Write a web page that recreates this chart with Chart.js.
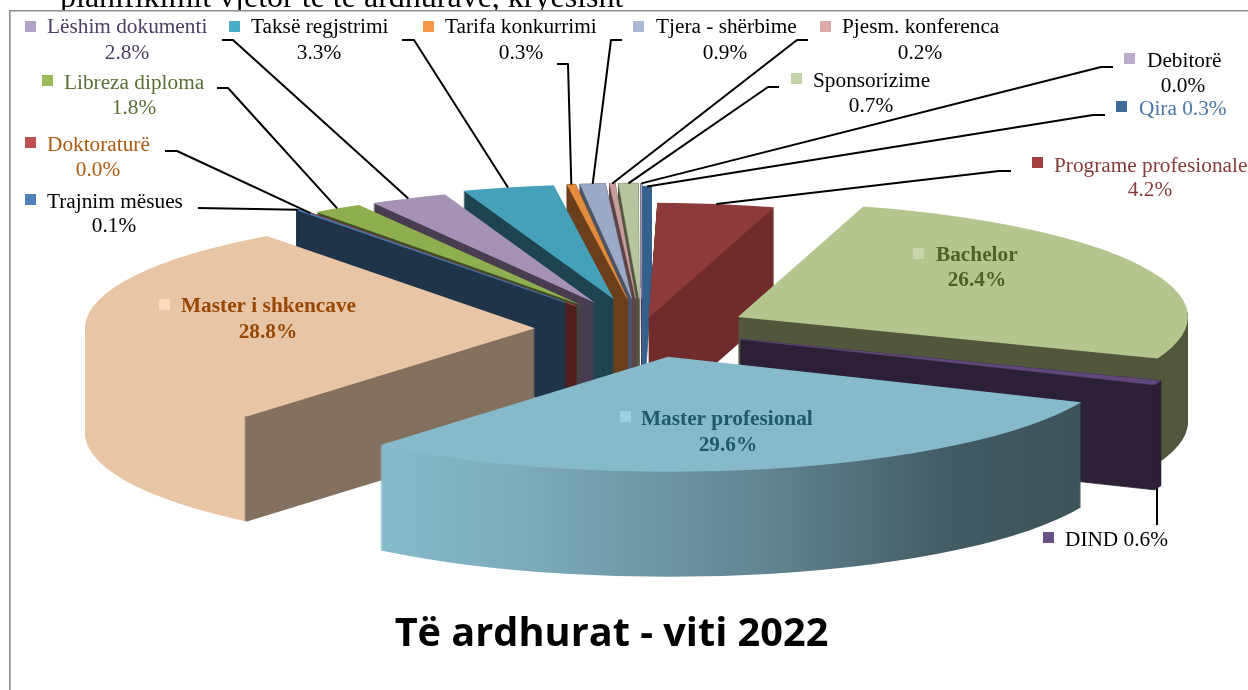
<!DOCTYPE html>
<html lang="sq">
<head>
<meta charset="utf-8">
<title>Të ardhurat - viti 2022</title>
<style>html,body{margin:0;padding:0;background:#fff}canvas{display:block}</style>
<script src="https://cdn.jsdelivr.net/npm/chart.js@4/dist/chart.umd.js"></script>
</head>
<body>
<canvas id="c" width="1248" height="690"></canvas>
<script>
// ---- data ----
const categories = ["Qira","Programe profesionale","Bachelor","DIND","Master profesional","Master i shkencave","Trajnim mësues","Doktoraturë","Libreza diploma","Lëshim dokumenti","Taksë regjstrimi","Tarifa konkurrimi","Tjera - shërbime","Pjesm. konferenca","Sponsorizime","Debitorë"];
const shares = [0.3,4.2,26.4,0.6,29.6,28.8,0.1,0.04,1.8,2.8,3.3,0.3,0.9,0.2,0.7,0.03];
const chartTitle = "Të ardhurat - viti 2022";
const clippedHeading = "planifikimit vjetor të të ardhurave, kryesisht";

// ---- styles ----
const topColors = ["#36618f","#8d3b3a","#b4c58e","#60497a","#86bacb","#e8c5a5","#4f81bd","#c0504d","#8eae4f","#a491b4","#45a1ba","#e38c3b","#9ca9c6","#c89e9d","#b7c59f","#b9adcb"];
const wallColors = ["#355f8d","#702c2c","#52573d","#2b2035","#86bacb","#84705e","#1f3349","#4f1f1f","#3f4f26","#483e50","#1e4450","#6b3f1c","#4b5465","#5e4445","#50563f","#3f3650"];
const explosion = [108,45,107,107,112,107,130,112,112,112,120,120,120,120,120,120];
const keyColors = ["#3f6a9c","#a33f3d","#c9d6a9","#6a5088","#9ccfe0","#fbd9bb","#4f81bd","#c0504d","#9bbb59","#b3a2c7","#4bacc6","#f79646","#aab8d6","#dba9a8","#c3d3a8","#b9adcb"];
const textColors = ["#4a76a8","#843c3b","#4f6128","#000","#215968","#974806","#000","#ad5a10","#5a6f34","#4c3d63","#000","#000","#000","#000","#000","#000"];
// label layout: key x, key y, text x, name baseline, percent centre x, percent baseline, leader start x, y, elbow x
const labelLayout = [
 [1116,101,1139,115,null,null,1105,115,1093],
 [1032,157,1054,172,1150,196,1011,171,999],
 [913,248,936,261,977,286,null],
 [1043,532,1065,546,null,null,1157,525,null],
 [620,411,641,425,728,451,null],
 [159,299,181,312,268,338,null],
 [25,194,47,208,114,232,198,208,null],
 [25,137,47,151,98,176,165,151,177],
 [42,75,64,89,134,114,217,88,228],
 [25,21,47,33,127,59,222,40,233],
 [229,21,251,33,319,59,402,40,414],
 [423,21,445,33,521,59,557,64,568],
 [633,21,656,33,725,59,622,40,611],
 [820,21,842,33,920,59,808,40,797],
 [791,73,813,87,871,112,779,87,768],
 [1124,53,1147,67,1183,92,1113,67,1101]
];
const boldLabels = new Set(["Bachelor","Master profesional","Master i shkencave"]);
const pieCentre = {x:642, y:329}, squash = 0.2555, wallDepth = 105, pieRadius = 450;

function wallFill(ctx, i, toLocal){
  if (categories[i] === "Master profesional"){
    const g = ctx.createLinearGradient(toLocal(380),0,toLocal(1080),0);
    g.addColorStop(0,"#86bacb"); g.addColorStop(0.2,"#7dacbc"); g.addColorStop(0.55,"#618591");
    g.addColorStop(0.82,"#425a62"); g.addColorStop(1,"#3d5359");
    return g;
  }
  if (categories[i] === "Master i shkencave"){
    const g = ctx.createLinearGradient(toLocal(244),0,toLocal(246),0);
    g.addColorStop(0,"#e8c5a5"); g.addColorStop(1,"#84705e");
    return g;
  }
  return wallColors[i];
}
function rimPoint(arc,i,deep){
  const half=(arc.startAngle+arc.endAngle)/2, e=explosion[i];
  return {x:pieCentre.x+Math.cos(half)*(e+pieRadius),
          y:pieCentre.y+Math.sin(half)*(e+pieRadius)*squash+(deep?wallDepth:0)};
}

const pie3d = {
  id:"pie3d",
  beforeDatasetsDraw(chart){
    const ctx = chart.ctx, arcs = chart.getDatasetMeta(0).data;
    const order = arcs.map((a,i)=>i).sort((p,q)=>{
      const m=a=>Math.sin((a.startAngle+a.endAngle)/2);
      return m(arcs[p])-m(arcs[q]);
    });
    for (const i of order){
      const arc=arcs[i], half=(arc.startAngle+arc.endAngle)/2, e=explosion[i];
      const ex=Math.cos(half)*e, ey=Math.sin(half)*e*squash;
      const base=arc.options, thin=shares[i]<1.2;
      const place=(dy)=>{
        ctx.translate(pieCentre.x+ex,pieCentre.y+ey+dy);
        ctx.scale(1,squash);
        ctx.translate(-arc.x,-arc.y);
      };
      const toLocal=px=>px-pieCentre.x-ex+arc.x;
      const wall=wallFill(ctx,i,toLocal);
      if(thin){
        // thin wedge: sweep its outline straight down in one fill, so no seams appear
        const ax=pieCentre.x+ex, ay=pieCentre.y+ey, r=arc.outerRadius;
        const sx=ax+Math.cos(arc.startAngle)*r, sy=ay+Math.sin(arc.startAngle)*r*squash;
        const tx=ax+Math.cos(arc.endAngle)*r, ty=ay+Math.sin(arc.endAngle)*r*squash;
        const d=wallDepth;
        ctx.save();
        ctx.fillStyle=wall; ctx.strokeStyle=wall; ctx.lineWidth=0.8; ctx.lineJoin="round";
        for(const pts of [[[ax,ay],[sx,sy],[sx,sy+d],[ax,ay+d]],[[ax,ay],[tx,ty],[tx,ty+d],[ax,ay+d]],[[sx,sy],[tx,ty],[tx,ty+d],[sx,sy+d]]]){
          ctx.beginPath();
          pts.forEach((p,n)=>n?ctx.lineTo(p[0],p[1]):ctx.moveTo(p[0],p[1]));
          ctx.closePath(); ctx.fill(); ctx.stroke();
        }
        ctx.restore();
      } else {
        arc.options=Object.assign({},base,{backgroundColor:wall});
        for(let d=wallDepth;d>=1;d--){ ctx.save(); place(d); arc.draw(ctx); ctx.restore(); }
      }
      arc.options=Object.assign({},base,thin?{backgroundColor:topColors[i],borderColor:topColors[i],borderWidth:0.8,borderJoinStyle:"round"}:{backgroundColor:topColors[i]});
      ctx.save(); place(0); arc.draw(ctx); ctx.restore();
      arc.options=base;
    }
    return false;
  },
  afterDraw(chart){
    const ctx=chart.ctx, arcs=chart.getDatasetMeta(0).data;
    // page frame and clipped heading above it
    ctx.save();
    ctx.fillStyle="#000"; ctx.textAlign="left"; ctx.textBaseline="alphabetic";
    ctx.font='32px "Liberation Serif"';
    ctx.fillText(clippedHeading,60,7);
    ctx.fillStyle="#fff"; ctx.fillRect(0,11,1248,7);
    ctx.strokeStyle="#8c8c8c"; ctx.lineWidth=1.6;
    ctx.beginPath(); ctx.moveTo(1248,10.8); ctx.lineTo(9.8,10.8); ctx.lineTo(9.8,690); ctx.stroke();
    // leader lines
    ctx.strokeStyle="#000"; ctx.lineWidth=2; ctx.lineJoin="round";
    categories.forEach((name,i)=>{
      const L=labelLayout[i];
      if(L[6]==null) return;
      const isDown=name==="DIND", p=rimPoint(arcs[i],i,isDown);
      ctx.beginPath(); ctx.moveTo(L[6],L[7]);
      if(L[8]!=null) ctx.lineTo(L[8],L[7]);
      ctx.lineTo(isDown?L[6]:p.x,p.y); ctx.stroke();
    });
    // labels
    categories.forEach((name,i)=>{
      const L=labelLayout[i], pct=shares[i].toFixed(1)+"%";
      ctx.fillStyle=keyColors[i]; ctx.fillRect(L[0],L[1],11,11);
      ctx.fillStyle=textColors[i];
      ctx.font=(boldLabels.has(name)?"bold ":"")+'21.3px "Liberation Serif"';
      ctx.textAlign="left";
      if(L[4]==null){ ctx.fillText(name+" "+pct,L[2],L[3]); }
      else{
        ctx.fillText(name,L[2],L[3]);
        ctx.textAlign="center"; ctx.fillText(pct,L[4],L[5]);
      }
    });
    // title
    ctx.fillStyle="#000"; ctx.textAlign="center";
    ctx.font='bold 39.7px "Open Sans"';
    ctx.fillText(chartTitle,611.5,646);
    ctx.restore();
  }
};

new Chart(document.getElementById("c"),{
  type:"pie",
  data:{labels:categories,datasets:[{data:shares,backgroundColor:topColors,borderWidth:0}]},
  options:{
    responsive:false,animation:false,devicePixelRatio:1,radius:pieRadius,
    layout:{padding:0},
    plugins:{legend:{display:false},tooltip:{enabled:false},title:{display:false}}
  },
  plugins:[pie3d]
});
</script>
</body>
</html>
